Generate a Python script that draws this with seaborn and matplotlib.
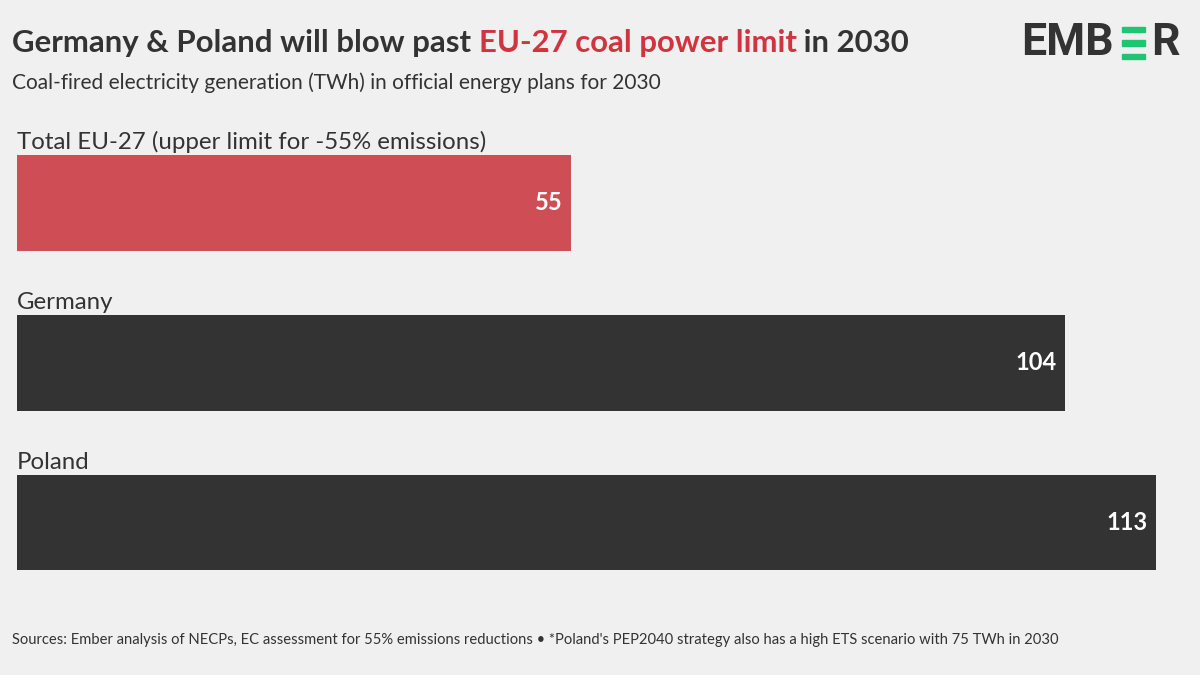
import pandas as pd
import matplotlib.pyplot as plt
import seaborn as sns
from matplotlib.patches import Rectangle

# Chart data
categories = ["Total EU-27 (upper limit for -55% emissions)", "Germany", "Poland"]
values = [55, 104, 113]
bar_colors = ["#cf4d55", "#333333", "#333333"]

title_parts = ["Germany & Poland will blow past ", "EU-27 coal power limit", " in 2030"]
subtitle = "Coal-fired electricity generation (TWh) in official energy plans for 2030"
footer = ("Sources: Ember analysis of NECPs, EC assessment for 55% emissions reductions \u2022 "
          "*Poland's PEP2040 strategy also has a high ETS scenario with 75 TWh in 2030")

BG = "#f0f0f0"
DARK = "#333333"
RED = "#cf343f"
GREEN = "#1fc572"

df = pd.DataFrame({"category": categories, "value": values})

sns.set_theme(style="white")
plt.rcParams["font.family"] = ["Lato", "DejaVu Sans"]

fig = plt.figure(figsize=(12, 6.75), dpi=100, facecolor=BG)
W, H = 1200, 675
ax = fig.add_axes([17 / W, 1 - 602.4 / H, (1156 - 17) / W, (602.4 - 123) / H])
ax.set_facecolor(BG)

sns.barplot(data=df, x="value", y="category", hue="category", palette=bar_colors,
            orient="h", width=0.6, legend=False, saturation=1, linewidth=0, ax=ax)

ax.set_xlim(0, max(values))
ax.set_ylim(2.5, -0.5)
ax.axis("off")

for i, (cat, v) in enumerate(zip(categories, values)):
    ax.text(0, i - 0.31, cat, ha="left", va="bottom", fontsize=17.3, color=DARK)
    ax.annotate(str(v), xy=(v, i), xytext=(-6, 0), textcoords="offset points",
                ha="right", va="center", fontsize=17, fontweight="bold", color="white")

# title in three coloured parts
fig.canvas.draw()
renderer = fig.canvas.get_renderer()
x = 12 / W
for part, col in zip(title_parts, [DARK, RED, DARK]):
    t = fig.text(x, 1 - 43 / H, part, ha="left", va="center", fontsize=22.4,
                 fontweight="bold", color=col)
    bb = t.get_window_extent(renderer=renderer)
    x = bb.x1 / W

fig.text(12 / W, 1 - 83 / H, subtitle, ha="left", va="center", fontsize=15, color=DARK)
fig.text(12 / W, 1 - 640 / H, footer, ha="left", va="center", fontsize=10.63, color=DARK)

# logo
fig.text(1021 / W, 1 - 43 / H, "EMB", ha="left", va="center", fontsize=32,
         fontweight="bold", color=DARK, family="Roboto")
for y0 in [27, 40.5, 54]:
    fig.patches.append(Rectangle((1122 / W, 1 - (y0 + 5) / H), 23 / W, 5 / H,
                                 transform=fig.transFigure, color=GREEN))
fig.text(1151 / W, 1 - 43 / H, "R", ha="left", va="center", fontsize=32,
         fontweight="bold", color=DARK, family="Roboto")

fig.savefig("out.png", dpi=100, facecolor=BG)
